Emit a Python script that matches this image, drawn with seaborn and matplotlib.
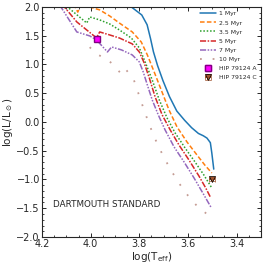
import numpy as np
import seaborn as sns
import matplotlib
matplotlib.use("Agg")
import matplotlib.pyplot as plt
from matplotlib.ticker import AutoMinorLocator

# isochrones (log Teff, log L/Lsun)
t_1 = [3.833, 3.790, 3.768, 3.754, 3.742, 3.725, 3.703, 3.676, 3.646, 3.614, 3.585, 3.557, 3.537, 3.522, 3.508, 3.502, 3.494]
l_1 = [2.00, 1.86, 1.69, 1.45, 1.22, 0.98, 0.72, 0.44, 0.19, 0.03, -0.10, -0.20, -0.24, -0.28, -0.36, -0.54, -0.82]

t_25 = [4.070, 4.053, 4.037, 4.004, 3.963, 3.922, 3.882, 3.829, 3.792, 3.767, 3.739, 3.710, 3.678, 3.645, 3.604, 3.563, 3.531, 3.502]
l_25 = [2.05, 1.91, 2.07, 2.00, 1.948, 1.843, 1.72, 1.565, 1.39, 1.165, 0.87, 0.557, 0.209, -0.087, -0.348, -0.574, -0.748, -0.887]

t_35 = [4.110, 4.016, 4.004, 3.963, 3.922, 3.882, 3.833, 3.800, 3.776, 3.747, 3.718, 3.686, 3.653, 3.612, 3.571, 3.535, 3.502]
l_35 = [2.05, 1.72, 1.826, 1.774, 1.704, 1.60, 1.46, 1.287, 1.043, 0.73, 0.383, 0.07, -0.19, -0.452, -0.696, -0.92, -1.148]

t_5 = [4.118, 4.057, 3.976, 3.963, 3.922, 3.882, 3.829, 3.800, 3.780, 3.759, 3.735, 3.706, 3.673, 3.637, 3.596, 3.555, 3.527, 3.506]
l_5 = [2.05, 1.739, 1.461, 1.565, 1.513, 1.46, 1.357, 1.217, 1.026, 0.765, 0.435, 0.122, -0.139, -0.40, -0.661, -0.939, -1.148, -1.322]

t_7 = [4.127, 4.057, 4.004, 3.976, 3.931, 3.914, 3.873, 3.829, 3.800, 3.784, 3.767, 3.747, 3.722, 3.694, 3.657, 3.616, 3.575, 3.539, 3.506]
l_7 = [2.03, 1.565, 1.496, 1.426, 1.217, 1.304, 1.252, 1.165, 1.043, 0.870, 0.643, 0.383, 0.122, -0.139, -0.435, -0.696, -0.974, -1.235, -1.478]

t_10 = [4.004, 3.976, 3.931, 3.902, 3.873, 3.857, 3.824, 3.804, 3.784, 3.763, 3.739, 3.710, 3.678, 3.641, 3.600, 3.559, 3.522, 3.502]
l_10 = [1.30, 1.18, 1.09, 0.97, 0.83, 0.92, 0.75, 0.50, 0.25, 0.0, -0.26, -0.52, -0.78, -1.04, -1.28, -1.48, -1.60, -1.70]

ages = ["1 Myr", "2.5 Myr", "3.5 Myr", "5 Myr", "7 Myr", "10 Myr"]

# stars
star_names = ["HIP 79124 A", "HIP 79124 C"]
star_t = [3.976, 3.500]
star_l = [1.44, -1.00]
star_terr = [0.008, 0.012]
star_lerr = [0.04, 0.03]

sns.set_style("ticks")
plt.rcParams["font.family"] = ["DejaVu Sans"]
plt.rcParams["mathtext.default"] = "regular"

fig = plt.figure(figsize=(2.66, 2.66), dpi=100)
ax = fig.add_axes([0.158, 0.109, 0.823, 0.865])

tracks = [(t_1, l_1), (t_25, l_25), (t_35, l_35), (t_5, l_5), (t_7, l_7)]
colors = ["tab:blue", "tab:orange", "tab:green", "tab:red", "tab:purple"]
styles = ["-", (0, (3, 1.5)), (0, (1, 1.2)), (0, (4, 1, 1, 1)), (0, (4, 1, 1, 1, 1, 1))]
for (tt, ll), c, s, lab in zip(tracks, colors, styles, ages[:5]):
    sns.lineplot(x=tt, y=ll, sort=False, color=c, lw=1.1, ax=ax, label=lab)
    ax.lines[-1].set_linestyle(s)
sns.lineplot(x=t_10, y=l_10, sort=False, color="#c49c94", lw=1.3,
             linestyle=(0, (1, 6)), ax=ax, label=ages[5])

ax.errorbar(star_t[0], star_l[0], xerr=star_terr[0], yerr=star_lerr[0], fmt="s",
            color="magenta", mec="purple", ms=5, elinewidth=2, capsize=2,
            label=star_names[0], zorder=5)
ax.errorbar(star_t[1], star_l[1], xerr=star_terr[1], yerr=star_lerr[1], fmt="v",
            color="sienna", mec="k", mew=0.5, ms=5, elinewidth=1.5, capsize=2,
            label=star_names[1], zorder=5)

ax.text(4.153, -1.44, "DARTMOUTH STANDARD", fontsize=6.3, va="center")

ax.set_xlim(4.2, 3.3)
ax.set_ylim(-2.0, 2.0)
ax.set_xticks([4.2, 4.0, 3.8, 3.6, 3.4])
ax.set_yticks(np.arange(-2.0, 2.01, 0.5))
ax.xaxis.set_minor_locator(AutoMinorLocator(4))
ax.yaxis.set_minor_locator(AutoMinorLocator(5))
ax.tick_params(which="both", direction="in", top=True, right=True, labelsize=7, pad=1.5)
ax.tick_params(which="major", length=3, width=0.7)
ax.tick_params(which="minor", length=1.5, width=0.6)
for sp in ax.spines.values():
    sp.set_linewidth(0.8)
ax.set_xlabel(r"log(T$_{eff}$)", fontsize=7.5, labelpad=1)
ax.set_ylabel(r"log(L/L$_\odot$)", fontsize=7.5, labelpad=1)

ax.legend(loc="upper right", fontsize=4.4, frameon=False, handlelength=2.6,
          handletextpad=0.5, labelspacing=0.62, borderaxespad=0.3,
          bbox_to_anchor=(1.0, 1.0))

fig.savefig("out.png", dpi=100)
